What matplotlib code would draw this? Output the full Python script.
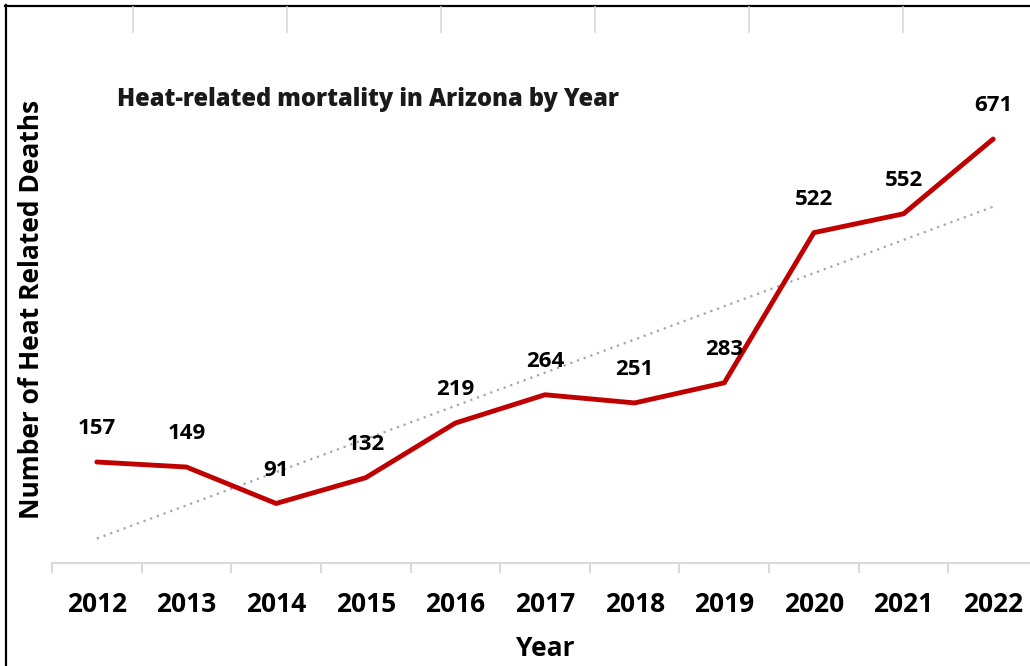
import numpy as np
import matplotlib
matplotlib.use("Agg")
import matplotlib.pyplot as plt
from matplotlib.lines import Line2D

years = ["2012", "2013", "2014", "2015", "2016", "2017", "2018", "2019", "2020", "2021", "2022"]
deaths = [157, 149, 91, 132, 219, 264, 251, 283, 522, 552, 671]

W, H = 1030, 666
fig = plt.figure(figsize=(W / 100, H / 100), dpi=100)

# axes placement in pixels
left_px, right_px = 52, 1038
bottom_px = 563
ppu = 323 / 514.0
ymin = -(bottom_px - (462 + 157 * ppu)) / ppu
top_px = 60
ymax = ymin + (bottom_px - top_px) / ppu
ax = fig.add_axes([left_px / W, 1 - bottom_px / H, (right_px - left_px) / W, (bottom_px - top_px) / H])

x = np.arange(len(years))
ax.plot(x, deaths, color="#C00000", lw=3.5, solid_joinstyle="round", solid_capstyle="round", zorder=3)

coef = np.polyfit(x, deaths, 1)
ax.plot(x, np.polyval(coef, x), color="#a6a6a6", lw=1.6, ls=(0, (1, 2.2)), zorder=2)

for xi, v in zip(x, deaths):
    ax.annotate(str(v), (xi, v), xytext=(0, 24), textcoords="offset points",
                ha="center", va="center", fontsize=16, fontweight="bold",
                family="Open Sans", color="black")

ax.set_xlim(-0.5, len(years) - 0.5)
ax.set_ylim(ymin, ymax)
ax.set_xticks(x)
ax.set_xticklabels(years, fontsize=19, fontweight="bold", family="Open Sans")
ax.set_xticks(np.arange(-0.5, len(years)), minor=True)
ax.tick_params(axis="x", which="major", length=0, pad=20)
ax.tick_params(axis="x", which="minor", length=7, width=1.5, color="#d9d9d9")
ax.set_yticks([])
for s in ["top", "right", "left"]:
    ax.spines[s].set_visible(False)
ax.spines["bottom"].set_color("#d9d9d9")
ax.spines["bottom"].set_linewidth(1.5)

fig.text(545 / W, 1 - 648 / H, "Year", ha="center", va="center", fontsize=19,
         fontweight="bold", family="Open Sans")
fig.text(32 / W, 1 - 309 / H, "Number of Heat Related Deaths", ha="center", va="center",
         rotation=90, fontsize=19, fontweight="bold", family="Open Sans")
fig.text(117 / W, 1 - 100 / H, "Heat-related mortality in Arizona by Year", ha="left",
         va="center", fontsize=17, fontweight="heavy", family="Open Sans", color="#1a1a1a")

# decorative frame and top ticks
fig.add_artist(Line2D([6 / W, 6 / W], [0, 1 - 5 / H], color="black", lw=1.6, transform=fig.transFigure))
fig.add_artist(Line2D([5 / W, 1], [1 - 6 / H, 1 - 6 / H], color="black", lw=1.6, transform=fig.transFigure))
for px in [133, 287, 441, 595, 749, 903]:
    fig.add_artist(Line2D([px / W, px / W], [1 - 7 / H, 1 - 32 / H], color="#d9d9d9", lw=1.2,
                          transform=fig.transFigure))

fig.savefig("out.png", dpi=100)
